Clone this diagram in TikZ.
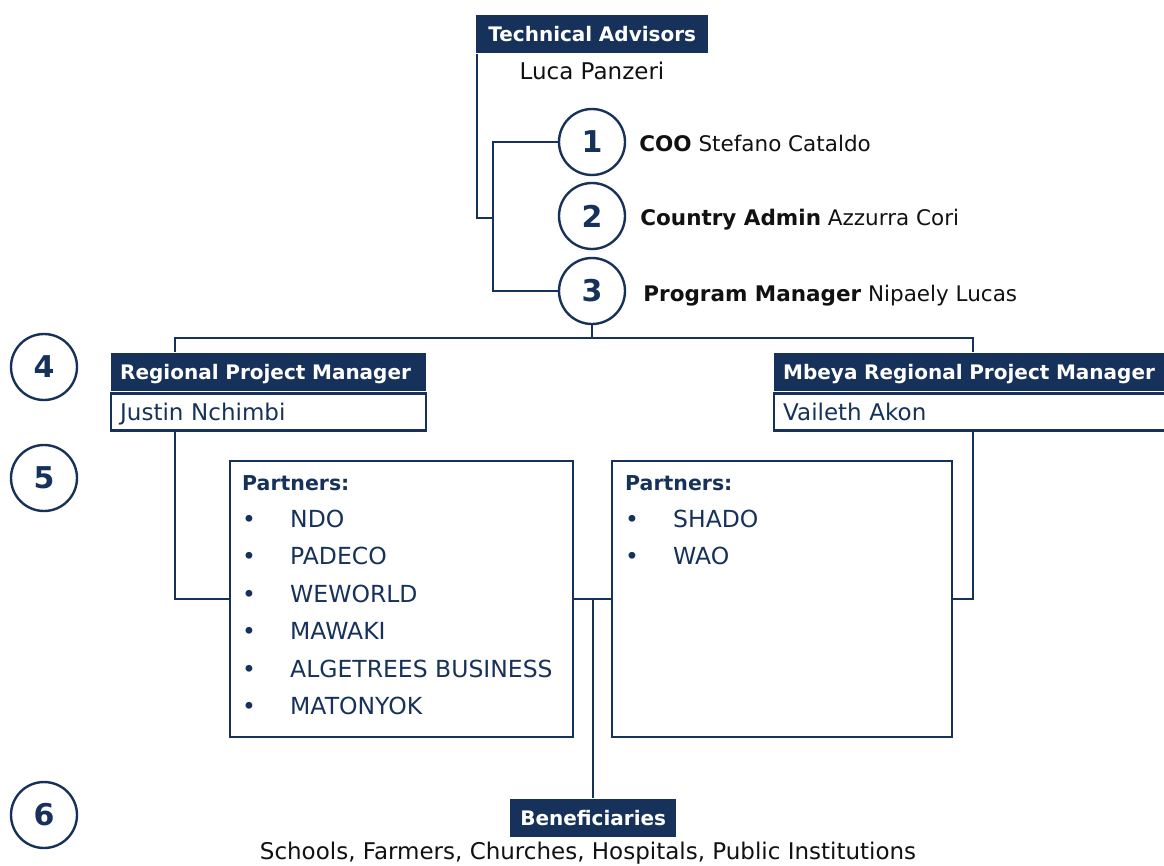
\documentclass[tikz,border=0pt]{standalone}
\usepackage{fontspec}
\setmainfont{DejaVu Sans}
\usepackage{tikz}

\definecolor{navy}{HTML}{17325A}
\definecolor{ink}{HTML}{111111}
\newcommand{\sz}{\fontsize{20}{24}\selectfont}
\newcommand{\szr}{\fontsize{23}{28}\selectfont}
\newcommand{\szm}{\fontsize{21.5}{26}\selectfont}
\newcommand{\sznum}{\fontsize{30}{36}\selectfont}
\newcommand{\itm}[1]{\makebox[48pt][l]{\textbullet}#1}

\begin{document}
\begin{tikzpicture}[x=1pt,y=-1pt,line width=2.4pt,color=navy,
  head/.style={fill=navy,text=white,font=\sz\bfseries,inner xsep=9pt,inner ysep=0pt,
    minimum height=38pt,text height=14.6pt,text depth=0pt,anchor=north west,align=left,text width=#1},
  namebox/.style={draw,fill=white,font=\szr,inner xsep=9pt,inner ysep=0pt,
    minimum height=37pt,text height=16pt,text depth=0pt,anchor=north west,align=left,text width=#1},
  num/.style={circle,draw,fill=white,minimum size=66pt,inner sep=0pt,font=\sznum\bfseries},
  who/.style={anchor=west,text=ink,font=\szm,inner xsep=0pt,text height=15pt,text depth=0pt},
  partbox/.style={draw,minimum width=343pt,minimum height=276pt,anchor=north west},
  plist/.style={anchor=north west,inner sep=0pt,align=left,font=\fontsize{23.5}{37.4}\selectfont}]

\clip (0,0) rectangle (1164,865);

% top of the chart
\node[head=214pt,align=center] (ta) at (475,14) {Technical Advisors};
\node[text=ink,font=\szr] (luca) at (592,71) {Luca Panzeri};
\node[num] (c1) at (592,142) {1};
\node[num] (c2) at (592,216) {2};
\node[num] (c3) at (592,291) {3};
\node[who] (coo) at ([xshift=12pt,yshift=-2pt]c1.east) {\textbf{COO} Stefano Cataldo};
\node[who] (adm) at ([xshift=13pt,yshift=-2pt]c2.east) {\textbf{Country Admin} Azzurra Cori};
\node[who] (pm) at ([xshift=16pt,yshift=-3pt]c3.east) {\textbf{Program Manager} Nipaely Lucas};

% regional managers
\node[head=297pt] (rpmL) at (110,352) {Regional Project Manager};
\node[namebox=297pt] (nmL) at (rpmL.south west) {Justin Nchimbi};
\node[head=382pt] (rpmR) at (773,352) {Mbeya Regional Project Manager};
\node[namebox=382pt] (nmR) at (rpmR.south west) {Vaileth Akon};

% partners
\node[partbox] (pL) at (229,460) {};
\node[partbox,minimum width=340pt] (pR) at (611,460) {};
\node[plist] (lL) at (241,474) {{\fontsize{20.5}{24}\selectfont\bfseries Partners:}\\\itm{NDO}\\\itm{PADECO}\\
  \itm{WEWORLD}\\\itm{MAWAKI}\\\itm{ALGETREES BUSINESS}\\\itm{MATONYOK}};
\node[plist] (lR) at (624,474) {{\fontsize{20.5}{24}\selectfont\bfseries Partners:}\\\itm{SHADO}\\\itm{WAO}};

% beneficiaries
\node[head=148pt,align=center] (ben) at (509,798) {Beneficiaries};
\node[text=ink,font=\szr] (benlist) at (588,853) {Schools, Farmers, Churches, Hospitals, Public Institutions};

% levels
\node[num] (s4) at (44,367) {4};
\node[num] (s5) at (44,478) {5};
\node[num] (s6) at (44,815) {6};

\coordinate (tj) at (493,218);
\coordinate (bus) at (592,338);
\draw ([xshift=2pt]ta.south west) |- (tj);
\draw (c1.west) -| (tj) |- (c3.west);
\draw (c3.south) -- (bus);
\draw ([xshift=65pt]rpmL.north west) |- (bus) -| ([xshift=200pt]rpmR.north west);
\draw ([xshift=65pt]nmL.south west) |- (pL.west);
\draw ([xshift=200pt]nmR.south west) |- (pR.east);
\draw (pL.east) -- (pR.west);
\draw (ben.north) -- (ben.north |- pL.east);
\end{tikzpicture}
\end{document}
